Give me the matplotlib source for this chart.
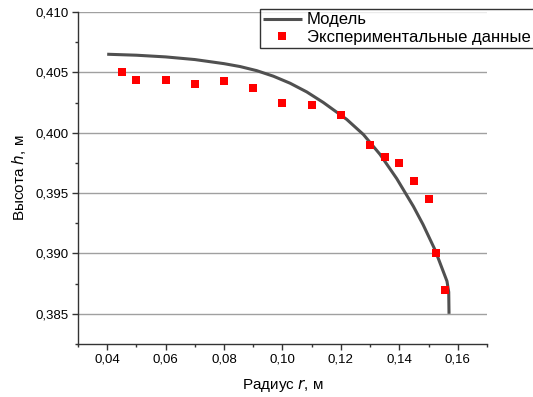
import matplotlib
matplotlib.use("Agg")
import matplotlib.pyplot as plt
from matplotlib.ticker import MultipleLocator, FuncFormatter

plt.rcParams['font.family'] = ['Liberation Sans', 'DejaVu Sans']

# Model curve
model_r = [0.040, 0.050, 0.060, 0.070, 0.080, 0.0855, 0.0912, 0.0969, 0.1026, 0.1083,
           0.1140, 0.1220, 0.1277, 0.1334, 0.1391, 0.1448, 0.1481, 0.1522,
           0.1563, 0.1569, 0.1570]
model_h = [0.40650, 0.40642, 0.40628, 0.40606, 0.40572, 0.40548, 0.40514, 0.40468, 0.40410, 0.40338,
           0.40250, 0.40110, 0.39985, 0.39820, 0.39620, 0.39390, 0.39240, 0.39030,
           0.38770, 0.38680, 0.38500]

# Experimental data
exp_r = [0.045, 0.050, 0.060, 0.070, 0.080, 0.090, 0.100, 0.110, 0.120, 0.130,
         0.135, 0.140, 0.145, 0.150, 0.1527, 0.1556]
exp_h = [0.4050, 0.4044, 0.4044, 0.4040, 0.4043, 0.4037, 0.4025, 0.4023, 0.4015, 0.3990,
         0.3980, 0.3975, 0.3960, 0.3945, 0.3900, 0.3870]

fig = plt.figure(figsize=(5.33, 3.97), dpi=100)
ax = fig.add_axes([0.1463, 0.1335, 0.9137 - 0.1463, 0.9698 - 0.1335])

ax.set_xlim(0.03, 0.17)
ax.set_ylim(0.3825, 0.410)

ax.yaxis.grid(True, which='major', color='#a0a0a0', linewidth=1.0)
ax.set_axisbelow(True)

ax.plot(model_r, model_h, color='#505050', linewidth=2.2, label='Модель',
        solid_capstyle='butt', solid_joinstyle='round', zorder=3)
ax.plot(exp_r, exp_h, linestyle='none', marker='s', markersize=6, color='#ff0000',
        markeredgewidth=0, label='Экспериментальные данные', zorder=4)

for s in ['top', 'right']:
    ax.spines[s].set_visible(False)
for s in ['left', 'bottom']:
    ax.spines[s].set_linewidth(1.0)
    ax.spines[s].set_color('#333333')

ax.xaxis.set_major_locator(MultipleLocator(0.02))
ax.xaxis.set_minor_locator(MultipleLocator(0.01))
ax.yaxis.set_major_locator(MultipleLocator(0.005))
ax.yaxis.set_minor_locator(MultipleLocator(0.0025))

fmt_x = FuncFormatter(lambda v, p: f"{v:.2f}".replace('.', ','))
fmt_y = FuncFormatter(lambda v, p: f"{v:.3f}".replace('.', ','))
ax.xaxis.set_major_formatter(fmt_x)
ax.yaxis.set_major_formatter(fmt_y)

ax.tick_params(axis='both', which='major', direction='out', length=4, width=1,
               labelsize=9.5, colors='#333333', labelcolor='black', pad=3)
ax.tick_params(axis='both', which='minor', direction='out', length=2.5, width=1,
               colors='#333333')

ax.set_xticks([v for v in ax.get_xticks() if 0.039 < v < 0.161])

ax.set_xlabel('Радиус $\\it{r}$, м', fontsize=11, labelpad=8)
ax.set_ylabel('Высота $\\it{h}$, м', fontsize=11, labelpad=5)

leg = fig.legend(loc='upper left', bbox_to_anchor=(0.4878, 0.977),
                 bbox_transform=fig.transFigure, fontsize=12, frameon=True,
                 fancybox=False, edgecolor='black', handlelength=2.3,
                 handletextpad=0.3, borderpad=0.2, labelspacing=0.15,
                 borderaxespad=0, markerscale=0.9)
leg.get_frame().set_linewidth(1.0)

fig.savefig('out.png', dpi=100)
